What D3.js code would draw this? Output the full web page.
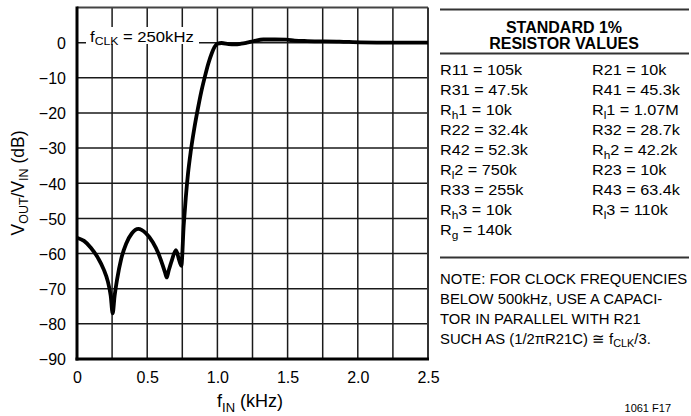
<!DOCTYPE html>
<html><head><meta charset="utf-8">
<script src="https://cdn.jsdelivr.net/npm/d3@7"></script>
<style>
body{margin:0;background:#fff;}
svg{display:block;font-family:"Liberation Sans",Arial,Helvetica,sans-serif;}
</style></head>
<body><svg id="c" width="691" height="416"></svg>
<script>
// ---- data ----
const freqKHz = [0, 0.05, 0.1, 0.15, 0.19, 0.22, 0.24, 0.254, 0.268, 0.285, 0.315, 0.35, 0.39, 0.437, 0.49, 0.54, 0.58, 0.61, 0.628, 0.639, 0.652, 0.675, 0.705, 0.725, 0.743, 0.76, 0.775, 0.79, 0.81, 0.835, 0.86, 0.885, 0.91, 0.935, 0.96, 0.98, 1.0, 1.03, 1.08, 1.125, 1.17, 1.21, 1.256, 1.327, 1.41, 1.49, 1.55, 1.64, 1.87, 2.02, 2.25, 2.5];
const gainDB = [-55.5, -56.4, -58.4, -61.3, -64.5, -68, -72, -77, -72, -67.5, -61.5, -57.2, -54.3, -53, -54.2, -56.8, -60, -63.3, -65.5, -66.8, -65, -62, -59, -61.5, -63.5, -52, -44, -37.5, -31, -24.5, -19, -14, -9.8, -6, -3, -1.2, -0.3, -0.1, -0.4, -0.5, -0.3, 0, 0.4, 0.9, 0.9, 0.85, 0.6, 0.45, 0.3, 0.1, 0, 0];
const xTicks = [0, 0.5, 1.0, 1.5, 2.0, 2.5];
const yTicks = [0, -10, -20, -30, -40, -50, -60, -70, -80, -90];
const xGrid = [0.25, 0.5, 0.75, 1.0, 1.25, 1.5, 1.75, 2.0, 2.25];
const yGrid = [0, -10, -20, -30, -40, -50, -60, -70, -80];
const clockLabel = [["f", 0], ["CLK", 1], [" = 250kHz", 0]];
const yTitle = [["V", 0], ["OUT", 1], ["/V", 0], ["IN", 1], [" (dB)", 0]];
const xTitle = [["f", 0], ["IN", 1], [" (kHz)", 0]];
const tableTitle = ["STANDARD 1%", "RESISTOR VALUES"];
const resistorsLeft = [
  [["R11 = 105k",0]], [["R31 = 47.5k",0]], [["R",0],["h",1],["1 = 10k",0]], [["R22 = 32.4k",0]],
  [["R42 = 52.3k",0]], [["R",0],["l",1],["2 = 750k",0]], [["R33 = 255k",0]], [["R",0],["h",1],["3 = 10k",0]],
  [["R",0],["g",1],[" = 140k",0]]
];
const resistorsRight = [
  [["R21 = 10k",0]], [["R41 = 45.3k",0]], [["R",0],["l",1],["1 = 1.07M",0]], [["R32 = 28.7k",0]],
  [["R",0],["h",1],["2 = 42.2k",0]], [["R23 = 10k",0]], [["R43 = 63.4k",0]], [["R",0],["l",1],["3 = 110k",0]]
];
const noteLines = [
  [["NOTE: FOR CLOCK FREQUENCIES",0]],
  [["BELOW 500kHz, USE A CAPACI-",0]],
  [["TOR IN PARALLEL WITH R21",0]],
  [["SUCH AS (1/2\u03C0R21C) \u2245 f",0],["CLK",1],["/3.",0]]
];
const figId = "1061 F17";

// ---- drawing ----
const svg = d3.select("#c");
const x = d3.scaleLinear().domain([0, 2.5]).range([77, 428]);
const y = d3.scaleLinear().domain([-90, 10]).range([359, 7.5]);

function rich(g, px, py, parts, size, subSize, opts = {}) {
  const t = g.append("text").attr("font-size", size).attr("fill", "#000")
    .attr("text-anchor", opts.anchor || "start");
  if (opts.sx && opts.sx !== 1) {
    t.attr("transform", `translate(${px},${py}) scale(${opts.sx},1)`);
  } else {
    t.attr("transform", `translate(${px},${py})` + (opts.rotate ? ` rotate(${opts.rotate})` : ""));
  }
  let shifted = false;
  parts.forEach(([s, sub]) => {
    const ts = t.append("tspan").text(s);
    if (sub) { ts.attr("font-size", subSize).attr("dy", shifted ? 0 : subSize * 0.35); shifted = true; }
    else { ts.attr("dy", shifted ? -subSize * 0.35 : 0); shifted = false; }
  });
  if (opts.weight) t.attr("font-weight", opts.weight);
  return t;
}

// grid
const grid = svg.append("g").attr("stroke", "#1a1a1a").attr("stroke-width", 1.5);
grid.selectAll("line.v").data(xGrid).join("line")
  .attr("x1", d => x(d)).attr("x2", d => x(d)).attr("y1", y(10)).attr("y2", y(-90));
grid.selectAll("line.h").data(yGrid).join("line")
  .attr("x1", x(0)).attr("x2", x(2.5)).attr("y1", d => y(d)).attr("y2", d => y(d));

// clock label with white background
svg.append("rect").attr("x", 86).attr("y", 27).attr("width", 113).attr("height", 17).attr("fill", "#fff");
rich(svg, 90, 41.5, clockLabel, 15, 11, {sx: 1.11});

// frame
svg.append("line").attr("x1", x(0)).attr("x2", x(2.5)).attr("y1", y(10)).attr("y2", y(10)).attr("stroke", "#444").attr("stroke-width", 2);
svg.append("line").attr("x1", x(2.5)).attr("x2", x(2.5)).attr("y1", y(10)).attr("y2", y(-90)).attr("stroke", "#333").attr("stroke-width", 2);
svg.append("line").attr("x1", x(0)).attr("x2", x(0)).attr("y1", y(10) - 1).attr("y2", y(-90) + 1.5).attr("stroke", "#000").attr("stroke-width", 3);
svg.append("line").attr("x1", x(0) - 1.5).attr("x2", x(2.5) + 1).attr("y1", y(-90)).attr("y2", y(-90)).attr("stroke", "#000").attr("stroke-width", 3);

// curve
const pts = freqKHz.map((f, i) => [f, gainDB[i]]);
svg.append("path").datum(pts)
  .attr("fill", "none").attr("stroke", "#000").attr("stroke-width", 3.8)
  .attr("stroke-linejoin", "round").attr("stroke-linecap", "butt")
  .attr("d", d3.line().x(d => x(d[0])).y(d => y(d[1])).curve(d3.curveMonotoneX));

// axes
const yAx = svg.append("g").attr("transform", `translate(${x(0)},0)`)
  .call(d3.axisLeft(y).tickValues(yTicks).tickSize(0).tickPadding(11));
yAx.select(".domain").remove();
yAx.selectAll("text").attr("font-size", 16).attr("font-family", "'Liberation Sans',Arial,sans-serif").attr("fill", "#000").attr("dy", "0.36em");

const xAx = svg.append("g").attr("transform", `translate(0,${y(-90)})`)
  .call(d3.axisBottom(x).tickValues(xTicks).tickSize(0).tickPadding(13)
    .tickFormat(d => d === 0 ? "0" : d3.format(".1f")(d)));
xAx.select(".domain").remove();
xAx.selectAll("text").attr("font-size", 16).attr("font-family", "'Liberation Sans',Arial,sans-serif").attr("fill", "#000");

// titles
rich(svg, 24, 183, yTitle, 17.5, 12.5, {anchor: "middle", rotate: -90});
rich(svg, 250, 407, xTitle, 18, 13, {anchor: "middle"});

// right panel
const rp = svg.append("g");
rp.append("line").attr("x1", 440).attr("x2", 689).attr("y1", 9.5).attr("y2", 9.5).attr("stroke", "#333").attr("stroke-width", 2);
rp.append("line").attr("x1", 440).attr("x2", 689).attr("y1", 53.5).attr("y2", 53.5).attr("stroke", "#333").attr("stroke-width", 2);
rp.append("line").attr("x1", 440).attr("x2", 689).attr("y1", 257.5).attr("y2", 257.5).attr("stroke", "#333").attr("stroke-width", 2);
tableTitle.forEach((s, i) => rich(rp, 564, 32.5 + i * 16.7, [[s, 0]], 16, 12, {anchor: "middle", weight: "bold"}));
resistorsLeft.forEach((p, i) => rich(rp, 440, 75 + i * 20, p, 15, 11, {sx: 1.08}));
resistorsRight.forEach((p, i) => rich(rp, 592, 75 + i * 20, p, 15, 11, {sx: 1.08}));
noteLines.forEach((p, i) => rich(rp, 440, 283.5 + i * 20, p, 15, 11, {sx: 0.99}));
rich(rp, 671, 411.5, [[figId, 0]], 11, 8, {anchor: "end"});
</script></body></html>
